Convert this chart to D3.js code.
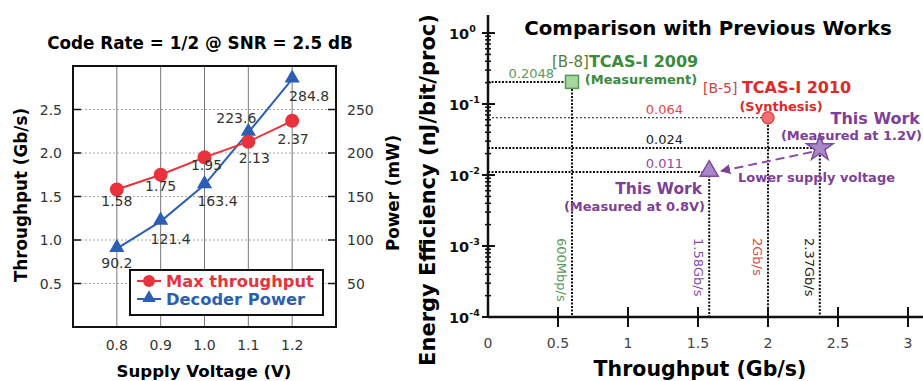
<!DOCTYPE html>
<html>
<head>
<meta charset="utf-8">
<script src="https://cdn.jsdelivr.net/npm/d3@7"></script>
<style>
  body { margin: 0; background: #fff; }
  svg { display: block; font-family: "DejaVu Sans", Verdana, sans-serif; }
</style>
</head>
<body>
<div id="chart"></div>
<script>
// left chart data
const voltages = [0.8, 0.9, 1.0, 1.1, 1.2];
const throughput = [1.58, 1.75, 1.95, 2.13, 2.37];
const power = [90.2, 121.4, 163.4, 223.6, 284.8];
const tputTicks = [0.5, 1.0, 1.5, 2.0, 2.5];
const powerTicks = [50, 100, 150, 200, 250];

// right chart data
const workNames = ['[B-8]', '[B-5]', 'This Work 1.2V', 'This Work 0.8V'];
const workTput = [0.6, 2.0, 2.37, 1.58];
const workEff = [0.2048, 0.064, 0.024, 0.011];
const effLabels = ['0.2048', '0.064', '0.024', '0.011'];
const tputLabels = ['600Mbp/s', '2Gb/s', '2.37Gb/s', '1.58Gb/s'];
const xTicksR = [0, 0.5, 1, 1.5, 2, 2.5, 3];

const W = 923, H = 381;
const svg = d3.select('#chart').append('svg').attr('width', W).attr('height', H);

const red = '#e8323c', blue = '#2c5fb4';
const green = '#3d8a3d', purple = '#7e3f98';

// ---------- left chart ----------
const xL = d3.scaleLinear().domain([0.7, 1.3]).range([73, 336]);
const yL = d3.scaleLinear().domain([0, 3]).range([327, 66]);
const yP = d3.scaleLinear().domain([0, 300]).range([327, 66]);

const left = svg.append('g');

left.selectAll('line.vgrid').data(voltages).enter().append('line')
  .attr('x1', d => xL(d)).attr('x2', d => xL(d))
  .attr('y1', yL(0)).attr('y2', yL(3))
  .attr('stroke', '#777').attr('stroke-width', 1);

left.selectAll('line.hgrid').data(tputTicks).enter().append('line')
  .attr('x1', xL(0.7)).attr('x2', xL(1.3))
  .attr('y1', d => yL(d)).attr('y2', d => yL(d))
  .attr('stroke', '#aaa').attr('stroke-width', 1).attr('stroke-dasharray', '2,2');

left.append('rect')
  .attr('x', xL(0.7)).attr('y', yL(3))
  .attr('width', xL(1.3) - xL(0.7)).attr('height', yL(0) - yL(3))
  .attr('fill', 'none').attr('stroke', '#111').attr('stroke-width', 2);

// inward ticks on both borders
left.selectAll('line.lt').data(tputTicks).enter().append('line')
  .attr('x1', xL(0.7)).attr('x2', xL(0.7) + 8)
  .attr('y1', d => yL(d)).attr('y2', d => yL(d))
  .attr('stroke', '#111').attr('stroke-width', 1.5);
left.selectAll('line.rt').data(powerTicks).enter().append('line')
  .attr('x1', xL(1.3)).attr('x2', xL(1.3) - 8)
  .attr('y1', d => yP(d)).attr('y2', d => yP(d))
  .attr('stroke', '#111').attr('stroke-width', 1.5);

left.selectAll('text.lt').data(tputTicks).enter().append('text')
  .attr('x', 62).attr('y', d => yL(d) + 5)
  .attr('text-anchor', 'end').attr('font-size', 14).attr('fill', '#333')
  .text(d => d.toFixed(1));
left.selectAll('text.rt').data(powerTicks).enter().append('text')
  .attr('x', 347).attr('y', d => yP(d) + 5)
  .attr('font-size', 14).attr('fill', '#333')
  .text(d => d);
left.selectAll('text.xt').data(voltages).enter().append('text')
  .attr('x', d => xL(d)).attr('y', 350)
  .attr('text-anchor', 'middle').attr('font-size', 14).attr('fill', '#333')
  .text(d => d.toFixed(1));

left.append('text').attr('x', 200).attr('y', 49)
  .attr('text-anchor', 'middle').attr('font-size', 16.8).attr('font-weight', 'bold')
  .text('Code Rate = 1/2 @ SNR = 2.5 dB');
left.append('text').attr('x', 204).attr('y', 377)
  .attr('text-anchor', 'middle').attr('font-size', 16.6).attr('font-weight', 'bold')
  .text('Supply Voltage (V)');
left.append('text').attr('transform', 'translate(27,195) rotate(-90)')
  .attr('text-anchor', 'middle').attr('font-size', 16.8).attr('font-weight', 'bold')
  .text('Throughput (Gb/s)');
left.append('text').attr('transform', 'translate(399,193) rotate(-90)')
  .attr('text-anchor', 'middle').attr('font-size', 16.8).attr('font-weight', 'bold')
  .text('Power (mW)');

// series
const tLine = d3.line().x((d, i) => xL(voltages[i])).y(d => yL(d));
const pLine = d3.line().x((d, i) => xL(voltages[i])).y(d => yP(d));
left.append('path').attr('d', pLine(power)).attr('fill', 'none').attr('stroke', blue).attr('stroke-width', 2);
left.append('path').attr('d', tLine(throughput)).attr('fill', 'none').attr('stroke', red).attr('stroke-width', 2);

const tri = d3.symbol().type(d3.symbolTriangle).size(100);
left.selectAll('path.pw').data(power).enter().append('path')
  .attr('d', tri).attr('fill', blue)
  .attr('transform', (d, i) => `translate(${xL(voltages[i])},${yP(d) - 1})`);
left.selectAll('circle.tp').data(throughput).enter().append('circle')
  .attr('cx', (d, i) => xL(voltages[i])).attr('cy', d => yL(d))
  .attr('r', 7).attr('fill', red);

// value labels
const tOff = [[0, 16], [0, 16], [2, 13], [6, 21], [1, 23]];
left.selectAll('text.tv').data(throughput).enter().append('text')
  .attr('x', (d, i) => xL(voltages[i]) + tOff[i][0])
  .attr('y', (d, i) => yL(d) + tOff[i][1])
  .attr('text-anchor', 'middle').attr('font-size', 14).attr('fill', '#333')
  .text(d => d.toFixed(2));
const pOff = [[0, 19], [10, 23], [13, 21], [-12, -9], [17, 22]];
left.selectAll('text.pv').data(power).enter().append('text')
  .attr('x', (d, i) => xL(voltages[i]) + pOff[i][0])
  .attr('y', (d, i) => yP(d) + pOff[i][1])
  .attr('text-anchor', 'middle').attr('font-size', 14).attr('fill', '#333')
  .text(d => d.toFixed(1));

// legend
const lg = left.append('g');
lg.append('rect').attr('x', 130).attr('y', 270).attr('width', 193).attr('height', 45)
  .attr('fill', '#fff').attr('stroke', '#111').attr('stroke-width', 2);
lg.append('line').attr('x1', 137).attr('x2', 161).attr('y1', 281).attr('y2', 281).attr('stroke', red).attr('stroke-width', 2);
lg.append('circle').attr('cx', 149).attr('cy', 281).attr('r', 6).attr('fill', red);
lg.append('text').attr('x', 166).attr('y', 287).attr('font-size', 16.3).attr('font-weight', 'bold').attr('fill', red).text('Max throughput');
lg.append('line').attr('x1', 137).attr('x2', 161).attr('y1', 299).attr('y2', 299).attr('stroke', blue).attr('stroke-width', 2);
lg.append('path').attr('d', d3.symbol().type(d3.symbolTriangle).size(80)).attr('fill', blue).attr('transform', 'translate(149,298)');
lg.append('text').attr('x', 166).attr('y', 305).attr('font-size', 16.3).attr('font-weight', 'bold').attr('fill', blue).text('Decoder Power');

// ---------- right chart ----------
const xR = d3.scaleLinear().domain([0, 3]).range([488, 908]);
const yR = d3.scaleLog().domain([1e-4, 1]).range([317, 33]);
const right = svg.append('g');

// reference lines
workTput.forEach((t, i) => {
  const thin = i === 1;
  right.append('line')
    .attr('x1', xR(0)).attr('x2', xR(t)).attr('y1', yR(workEff[i])).attr('y2', yR(workEff[i]))
    .attr('stroke', '#111').attr('stroke-width', thin ? 1.2 : 2).attr('stroke-dasharray', thin ? '2,2' : '2,1.5');
  right.append('line')
    .attr('x1', xR(t)).attr('x2', xR(t)).attr('y1', yR(workEff[i])).attr('y2', yR(1e-4))
    .attr('stroke', '#111').attr('stroke-width', 2).attr('stroke-dasharray', '2,1.5');
});

// axes
right.append('line').attr('x1', xR(0)).attr('x2', W).attr('y1', yR(1e-4)).attr('y2', yR(1e-4))
  .attr('stroke', '#111').attr('stroke-width', 2.5);
right.append('line').attr('x1', xR(0)).attr('x2', xR(0)).attr('y1', 15).attr('y2', yR(1e-4))
  .attr('stroke', '#111').attr('stroke-width', 2.5);
right.selectAll('line.xt').data(xTicksR.slice(1)).enter().append('line')
  .attr('x1', d => xR(d)).attr('x2', d => xR(d))
  .attr('y1', yR(1e-4) - 10).attr('y2', yR(1e-4) + 10)
  .attr('stroke', '#111').attr('stroke-width', 2);
right.selectAll('text.xt').data(xTicksR).enter().append('text')
  .attr('x', d => xR(d)).attr('y', 348)
  .attr('text-anchor', 'middle').attr('font-size', 14).attr('fill', '#444')
  .text(d => d);

const majors = [1e-4, 1e-3, 1e-2, 1e-1, 1];
const minors = [];
majors.slice(0, 4).forEach(m => { for (let k = 2; k <= 9; k++) minors.push(m * k); });
right.selectAll('line.ymin').data(minors).enter().append('line')
  .attr('x1', xR(0) - 3).attr('x2', xR(0) + 3)
  .attr('y1', d => yR(d)).attr('y2', d => yR(d))
  .attr('stroke', '#111').attr('stroke-width', 1.5);
right.selectAll('line.ymaj').data(majors).enter().append('line')
  .attr('x1', xR(0) - 6).attr('x2', xR(0) + 7)
  .attr('y1', d => yR(d)).attr('y2', d => yR(d))
  .attr('stroke', '#111').attr('stroke-width', 2);
const yl = right.selectAll('text.yt').data(majors).enter().append('text')
  .attr('x', 449).attr('y', d => yR(d) + 6)
  .attr('font-size', 14.5).attr('font-weight', 'bold').attr('fill', '#111');
yl.append('tspan').text('10');
yl.append('tspan').attr('dy', -7).attr('font-size', 9.5).text(d => Math.round(Math.log10(d)));

right.append('text').attr('x', 708).attr('y', 35)
  .attr('text-anchor', 'middle').attr('font-size', 19.8).attr('font-weight', 'bold')
  .text('Comparison with Previous Works');
right.append('text').attr('x', 700).attr('y', 376)
  .attr('text-anchor', 'middle').attr('font-size', 20.5).attr('font-weight', 'bold')
  .text('Throughput (Gb/s)');
right.append('text').attr('transform', 'translate(435,190) rotate(-90)')
  .attr('text-anchor', 'middle').attr('font-size', 21).attr('font-weight', 'bold')
  .text('Energy Efficiency (nJ/bit/proc)');

// value labels on reference lines
const effColors = ['#5a9a5a', '#e04848', '#222', '#8a4aa8'];
right.selectAll('text.ev').data(workEff).enter().append('text')
  .attr('x', (d, i) => i === 0 ? 554 : 683).attr('y', d => yR(d) - 4)
  .attr('text-anchor', 'end').attr('font-size', 13).attr('fill', (d, i) => effColors[i])
  .text((d, i) => effLabels[i]);
right.selectAll('text.tv').data(workTput).enter().append('text')
  .attr('transform', d => `translate(${xR(d) - 15},238) rotate(90)`)
  .attr('font-size', 13).attr('fill', (d, i) => effColors[i])
  .text((d, i) => tputLabels[i]);

// arrow between this-work points
svg.append('defs').append('marker').attr('id', 'ah')
  .attr('viewBox', '0 0 10 10').attr('refX', 9).attr('refY', 5)
  .attr('markerWidth', 5).attr('markerHeight', 5).attr('orient', 'auto')
  .append('path').attr('d', 'M0,0L10,5L0,10z').attr('fill', purple);
right.append('line')
  .attr('x1', xR(workTput[2]) - 8).attr('y1', yR(workEff[2]) + 4)
  .attr('x2', xR(workTput[3]) + 12).attr('y2', yR(workEff[3]) - 1)
  .attr('stroke', '#8a4aa8').attr('stroke-width', 2).attr('stroke-dasharray', '9,5')
  .attr('marker-end', 'url(#ah)');

// markers
right.append('rect')
  .attr('x', xR(workTput[0]) - 6.5).attr('y', yR(workEff[0]) - 6.5)
  .attr('width', 13).attr('height', 13)
  .attr('fill', '#a8d8a0').attr('stroke', '#4f9a4f').attr('stroke-width', 1.5);
right.append('circle').attr('cx', xR(workTput[1])).attr('cy', yR(workEff[1]))
  .attr('r', 6).attr('fill', '#f37070').attr('stroke', '#e04848').attr('stroke-width', 1.5);
right.append('path').attr('d', d3.symbol().type(d3.symbolStar).size(220))
  .attr('transform', `translate(${xR(workTput[2])},${yR(workEff[2])})`)
  .attr('fill', '#a889c8').attr('stroke', '#7e4a9e').attr('stroke-width', 1.5);
right.append('path').attr('d', d3.symbol().type(d3.symbolTriangle).size(140))
  .attr('transform', `translate(${xR(workTput[3])},${yR(workEff[3]) - 1})`)
  .attr('fill', '#a889c8').attr('stroke', '#7e4a9e').attr('stroke-width', 1.5);

// annotations
const a1 = right.append('text').attr('x', 552).attr('y', 67).attr('font-size', 16);
a1.append('tspan').attr('fill', '#5a7a3a').attr('font-size', 15).text('[B-8]');
a1.append('tspan').attr('fill', green).attr('font-weight', 'bold').text('TCAS-I 2009');
right.append('text').attr('x', 641).attr('y', 84).attr('text-anchor', 'middle')
  .attr('font-size', 13).attr('font-weight', 'bold').attr('fill', green).text('(Measurement)');

const a2 = right.append('text').attr('x', 703).attr('y', 93).attr('font-size', 16);
a2.append('tspan').attr('fill', '#d04040').attr('font-size', 14).text('[B-5] ');
a2.append('tspan').attr('fill', '#e02828').attr('font-weight', 'bold').text('TCAS-I 2010');
right.append('text').attr('x', 781).attr('y', 111).attr('text-anchor', 'middle')
  .attr('font-size', 13).attr('font-weight', 'bold').attr('fill', '#e02828').text('(Synthesis)');

right.append('text').attr('x', 920).attr('y', 124).attr('text-anchor', 'end')
  .attr('font-size', 16).attr('font-weight', 'bold').attr('fill', purple).text('This Work');
right.append('text').attr('x', 922).attr('y', 140).attr('text-anchor', 'end')
  .attr('font-size', 13).attr('font-weight', 'bold').attr('fill', purple).text('(Measured at 1.2V)');
right.append('text').attr('x', 738).attr('y', 182)
  .attr('font-size', 13).attr('font-weight', 'bold').attr('fill', purple).text('Lower supply voltage');
right.append('text').attr('x', 702).attr('y', 194).attr('text-anchor', 'end')
  .attr('font-size', 15.5).attr('font-weight', 'bold').attr('fill', purple).text('This Work');
right.append('text').attr('x', 705).attr('y', 211).attr('text-anchor', 'end')
  .attr('font-size', 13).attr('font-weight', 'bold').attr('fill', purple).text('(Measured at 0.8V)');
</script>
</body>
</html>
